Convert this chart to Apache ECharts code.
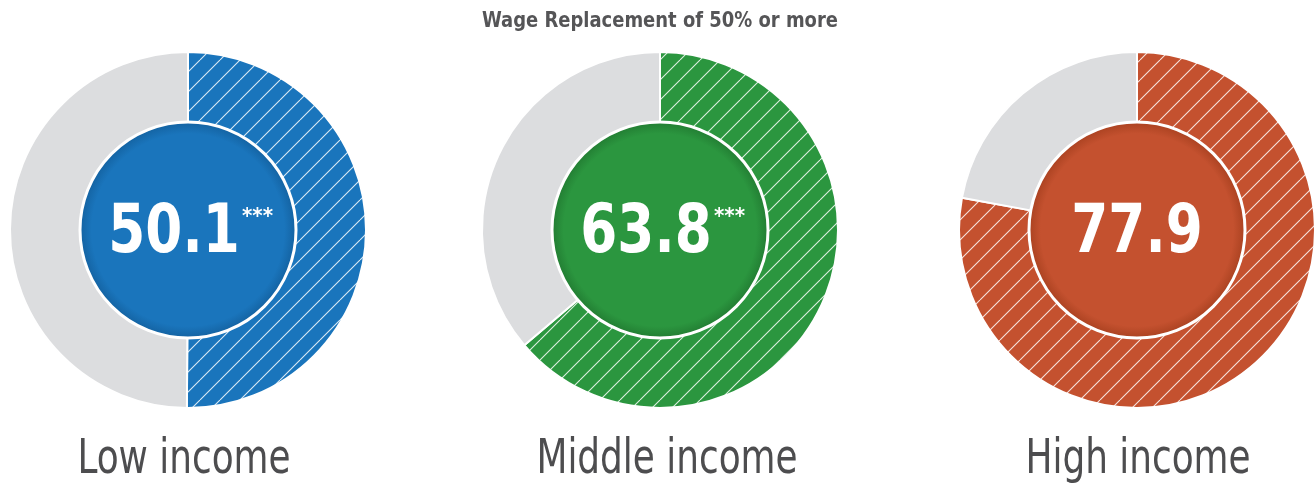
<!DOCTYPE html>
<html><head><meta charset="utf-8">
<script src="https://cdn.jsdelivr.net/npm/echarts@6/dist/echarts.min.js"></script>
<style>html,body{margin:0;padding:0;background:#fff}#c{width:1314px;height:483px}</style>
</head><body><div id="c"></div>
<script>
const categories = ['Low income', 'Middle income', 'High income'];
const values = [50.1, 63.8, 77.9];
const significance = ['***', '***', ''];
const colors = ['#1a75bc', '#2b963f', '#c4512f'];
const darkColors = ['#13609e', '#217a31', '#a7401f'];
const title = 'Wage Replacement of 50% or more';

const centersX = [188, 660, 1137];
const labelX = [184, 667, 1138];
const cy = 230;
const FONT = '"DejaVu Sans Condensed", "Liberation Sans Narrow", "Roboto", sans-serif';

function hatch(color) {
  const s = 20;
  const cv = document.createElement('canvas');
  cv.width = s; cv.height = s;
  const g = cv.getContext('2d');
  g.fillStyle = color; g.fillRect(0, 0, s, s);
  g.strokeStyle = 'rgba(255,255,255,0.85)';
  g.lineWidth = 1.1;
  for (const o of [-s, 0, s]) {
    g.beginPath(); g.moveTo(o, s); g.lineTo(o + s, 0); g.stroke();
  }
  return cv;
}

const series = [];
const graphics = [];
categories.forEach((cat, i) => {
  const cx = centersX[i];
  series.push({
    type: 'pie', silent: true, startAngle: 90, clockwise: true,
    center: [cx, cy], radius: [100, 178],
    label: { show: false }, labelLine: { show: false },
    itemStyle: { borderColor: '#fff', borderWidth: 2 },
    data: [
      { value: values[i], name: cat, itemStyle: { color: { image: hatch(colors[i]), repeat: 'repeat' } } },
      { value: +(100 - values[i]).toFixed(1), name: 'rest', itemStyle: { color: '#dcdddf' } }
    ]
  });
  series.push({
    type: 'pie', silent: true, center: [cx, cy], radius: [0, 108],
    label: { show: false }, labelLine: { show: false },
    itemStyle: {
      borderColor: '#fff', borderWidth: 3,
      color: { type: 'radial', x: 0.5, y: 0.5, r: 0.5, colorStops: [
        { offset: 0, color: colors[i] }, { offset: 0.88, color: colors[i] }, { offset: 1, color: darkColors[i] }
      ] }
    },
    data: [{ value: 1, name: cat + ' center' }]
  });
  const shift = significance[i] ? -14 : 0;
  graphics.push({
    type: 'text', x: cx + shift, y: cy + 4, z: 100, scaleX: 0.87,
    style: {
      text: String(values[i]), fill: '#fff', font: 'bold 68px ' + FONT,
      textAlign: 'center', textVerticalAlign: 'middle'
    }
  });
  if (significance[i]) {
    graphics.push({
      type: 'text', x: cx + 54, y: cy - 13, z: 100,
      style: { text: significance[i], fill: '#fff', font: 'bold 22px ' + FONT, textAlign: 'left', textVerticalAlign: 'middle' }
    });
  }
  graphics.push({
    type: 'text', x: labelX[i], y: 461, z: 100, scaleX: 0.83,
    style: { text: cat, fill: '#4d4d4f', font: '48px ' + FONT, textAlign: 'center', textVerticalAlign: 'middle' }
  });
});
graphics.push({
  type: 'text', x: 660, y: 22, z: 100, scaleX: 0.95,
  style: { text: title, fill: '#555557', font: 'bold 21px ' + FONT, textAlign: 'center', textVerticalAlign: 'middle' }
});

const chart = echarts.init(document.getElementById('c'), null, { renderer: 'canvas' });
chart.setOption({ animation: false, backgroundColor: '#fff', series: series, graphic: graphics });
</script></body></html>
